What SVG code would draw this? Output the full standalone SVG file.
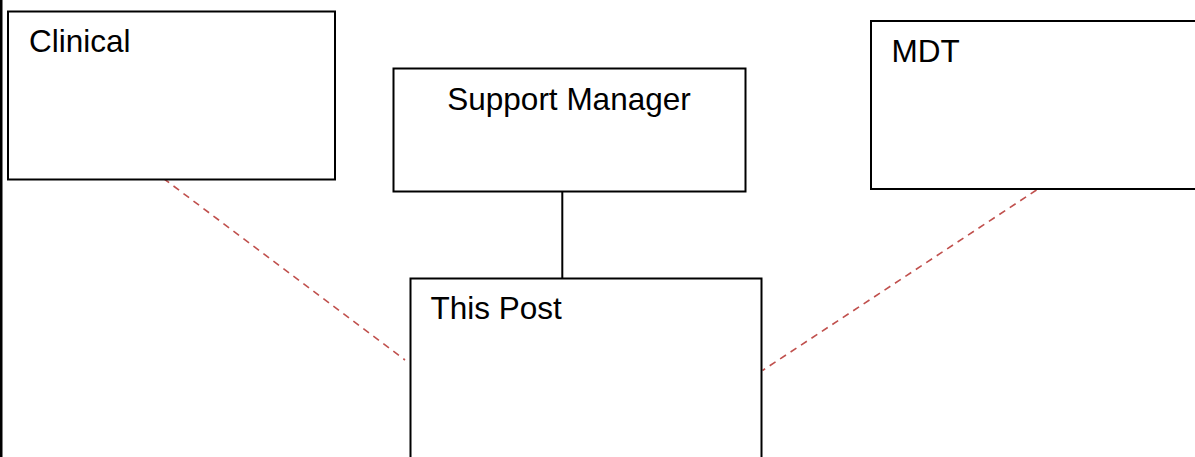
<svg xmlns="http://www.w3.org/2000/svg" width="1195" height="457" viewBox="0 0 1195 457">
<style>
.box{fill:#fff;stroke:#000;stroke-width:2}
.lbl{font-family:"Liberation Sans",Arial,sans-serif;font-size:31.5px;fill:#000}
.rel{stroke:#c0504d;stroke-width:1.6;stroke-dasharray:7 5.5;fill:none}
.solid{stroke:#000;stroke-width:2;fill:none}
</style>
<rect x="0" y="0" width="1195" height="457" fill="#fff"/>
<rect x="0" y="0" width="2.5" height="457" fill="#000"/>
<g id="connectors">
<line class="rel" x1="163.5" y1="178.5" x2="405" y2="360"/>
<line class="rel" x1="1036.5" y1="190" x2="762.5" y2="370.5"/>
<line class="solid" x1="562.3" y1="191.7" x2="562.3" y2="278.5"/>
</g>
<g id="clinical">
<rect class="box" x="8" y="11.5" width="327" height="168"/>
<text class="lbl" x="29" y="52">Clinical</text>
</g>
<g id="support-manager">
<rect class="box" x="393.5" y="68.5" width="352" height="123"/>
<text class="lbl" x="569" y="110" text-anchor="middle">Support Manager</text>
</g>
<g id="mdt">
<rect class="box" x="871" y="21" width="330" height="168"/>
<text class="lbl" x="891.5" y="62">MDT</text>
</g>
<g id="this-post">
<rect class="box" x="410.5" y="278.5" width="351" height="200"/>
<text class="lbl" x="430.5" y="318.5">This Post</text>
</g>
</svg>
